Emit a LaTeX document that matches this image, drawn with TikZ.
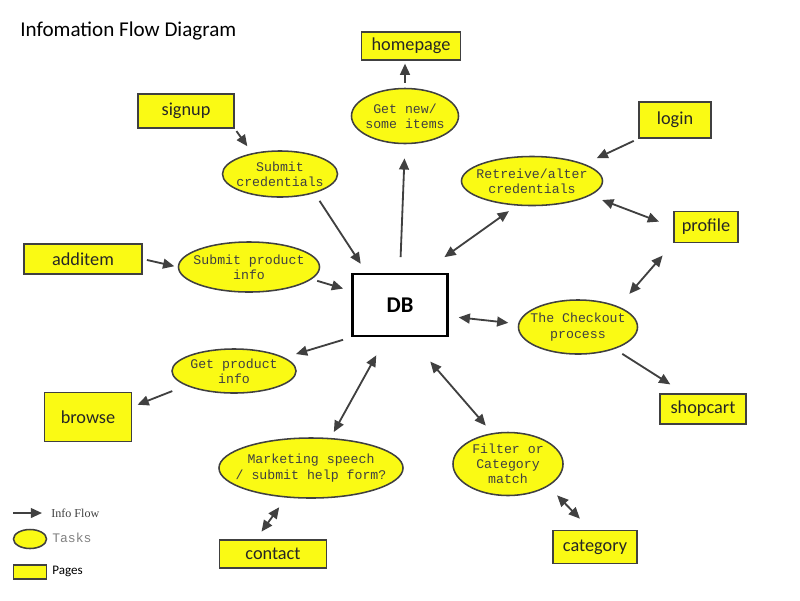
\documentclass[tikz,border=0pt]{standalone}
\usepackage{fontspec}
\setmainfont{Carlito}
\newfontfamily\taskfont{Liberation Mono}
\newfontfamily\legendfont{Liberation Serif}
\usepackage{xcolor}
\usetikzlibrary{shapes.geometric,arrows.meta}
\definecolor{pageyellow}{RGB}{250,250,20}
\definecolor{edgegray}{RGB}{64,64,64}

\begin{document}
\begin{tikzpicture}[x=0.025cm,y=-0.025cm]

    %--- Base styles for pages, tasks and flows:
    \tikzstyle{page node}=[draw=edgegray, line width=1.1pt, fill=pageyellow, rectangle, text=black!85, font=\fontsize{13}{15}\selectfont]
    \tikzstyle{task node}=[draw=edgegray, line width=1.1pt, fill=pageyellow, ellipse, inner xsep=-0.3cm, inner ysep=0pt, align=center, text=edgegray, font=\taskfont\fontsize{9.4}{10.8}\selectfont]
    \tikzstyle{flow}=[draw=edgegray, line width=1.3pt, -{Triangle[length=8pt,width=7pt]}]
    \tikzstyle{both flow}=[flow, {Triangle[length=8pt,width=7pt]}-{Triangle[length=8pt,width=7pt]}]

    \useasboundingbox (0,0) rectangle (800,600);

    %--- Title
    \node[anchor=west, inner sep=0pt, font=\fontsize{15}{18}\selectfont] (title) at (20,31) {Infomation Flow Diagram};

    %--- Central store
    \node[draw=black, line width=1.9pt, fill=white, minimum width=2.375cm, minimum height=1.55cm, font=\bfseries\fontsize{16}{19}\selectfont] (db) at (400,305) {DB};

    %--- Pages
    \node[page node, minimum width=2.475cm, minimum height=0.7cm]   (homepage) at (411,46)  {homepage};
    \node[page node, minimum width=2.4cm,   minimum height=0.85cm]  (signup)   at (186,111) {signup};
    \node[page node, minimum width=1.8cm,   minimum height=0.9cm]   (login)    at (675,120) {login};
    \node[page node, minimum width=1.6cm,   minimum height=0.775cm] (profile)  at (706,227) {profile};
    \node[page node, minimum width=2.95cm,  minimum height=0.75cm]  (additem)  at (83,259)  {additem};
    \node[page node, minimum width=2.175cm, minimum height=1.225cm] (browse)   at (88,417)  {browse};
    \node[page node, minimum width=2.15cm,  minimum height=0.75cm]  (shopcart) at (703,409) {shopcart};
    \node[page node, minimum width=2.675cm, minimum height=0.7cm]   (contact)  at (273,554) {contact};
    \node[page node, minimum width=2.1cm,   minimum height=0.825cm] (category) at (595,547) {category};

    %--- Tasks
    \node[task node, minimum width=2.675cm, minimum height=1.375cm] (getnew)    at (405,116) {Get new/\\some items};
    \node[task node, minimum width=2.875cm, minimum height=1.15cm]  (cred)      at (280,174) {Submit\\credentials};
    \node[task node, minimum width=3.525cm, minimum height=1.225cm] (retreive)  at (532,181) {Retreive/alter\\credentials};
    \node[task node, minimum width=3.525cm, minimum height=1.25cm]  (subprod)   at (249,267) {Submit product\\info};
    \node[task node, minimum width=2.975cm, minimum height=1.35cm]  (checkout)  at (578,327) {The Checkout\\process};
    \node[task node, minimum width=3.1cm,   minimum height=1.1cm]   (getprod)   at (234,371) {Get product\\info};
    \node[task node, minimum width=4.6cm,   minimum height=1.5cm]   (marketing) at (311,468) {Marketing speech\\/ submit help form?};
    \node[task node, minimum width=2.75cm,  minimum height=1.575cm] (filter)    at (508,464) {Filter or\\Category\\match};

    %--- Info flow
    \draw[flow, shorten <=2pt, shorten >=6pt]        (signup.south east) -- (cred.143);
    \draw[flow, shorten <=3.5pt, shorten >=2pt]      (getnew.north) -- (getnew.north |- homepage.south);
    \draw[flow, shorten <=11pt, shorten >=10pt]      (db.north) -- (getnew.south);
    \draw[flow, shorten <=6.5pt, shorten >=7.5pt]    (cred.-29) -- (db.136);
    \draw[flow, shorten <=3.5pt, shorten >=9.5pt]    (login.south west) -- (retreive.18);
    \draw[both flow, shorten <=9pt, shorten >=10.8pt]  (retreive.-14) -- (profile.west);
    \draw[both flow, shorten <=19pt, shorten >=6.7pt]  (db.55) -- (retreive.-122);
    \draw[flow, shorten <=3pt, shorten >=2.5pt]      (additem.east) -- (subprod.west);
    \draw[flow, shorten <=4pt, shorten >=6pt]        (subprod.-11) -- (db.164);
    \draw[both flow, shorten <=7pt, shorten >=7pt]     (db.-13) -- (checkout.177);
    \draw[both flow, shorten <=11.5pt, shorten >=11.8pt] (profile.south west) -- (checkout.27);
    \draw[flow, shorten <=6.4pt, shorten >=11.7pt]   (checkout.-31) -- (shopcart.140);
    \draw[flow, shorten <=6pt, shorten >=8.5pt]      (db.south west) -- (getprod.15);
    \draw[flow, shorten <=10.5pt, shorten >=4pt]     (getprod.-163) -- (browse.13);
    \draw[both flow, shorten <=14.6pt, shorten >=4.8pt] (db.-113) -- (marketing.57);
    \draw[both flow, shorten <=8.4pt, shorten >=6.7pt]  (marketing.-130) -- (contact.139);
    \draw[both flow, shorten <=22.8pt, shorten >=7pt]  (db.-74) -- (filter.117);
    \draw[both flow, shorten <=9pt, shorten >=11pt]    (filter.-29) -- (category.104);

    %--- Legend
    \coordinate (flowtail) at (13,513);
    \node[anchor=west, inner sep=0pt, text=edgegray, font=\legendfont\fontsize{8.6}{10}\selectfont] (flowtext) at (51,513) {Info Flow};
    \draw[flow, shorten >=6.4pt] (flowtail) -- (flowtext.west);
    \node[task node, minimum width=0.825cm, minimum height=0.475cm] (tasksample) at (30,539) {};
    \node[anchor=west, inner sep=0pt, text=gray, font=\taskfont\fontsize{9.3}{11}\selectfont] (tasktext) at (52,538) {Tasks};
    \node[page node, inner sep=0pt, minimum width=0.825cm, minimum height=0.35cm] (pagesample) at (30,572) {};
    \node[anchor=west, inner sep=0pt, font=\fontsize{9.3}{11}\selectfont] (pagetext) at (52,571) {Pages};

\end{tikzpicture}
\end{document}
